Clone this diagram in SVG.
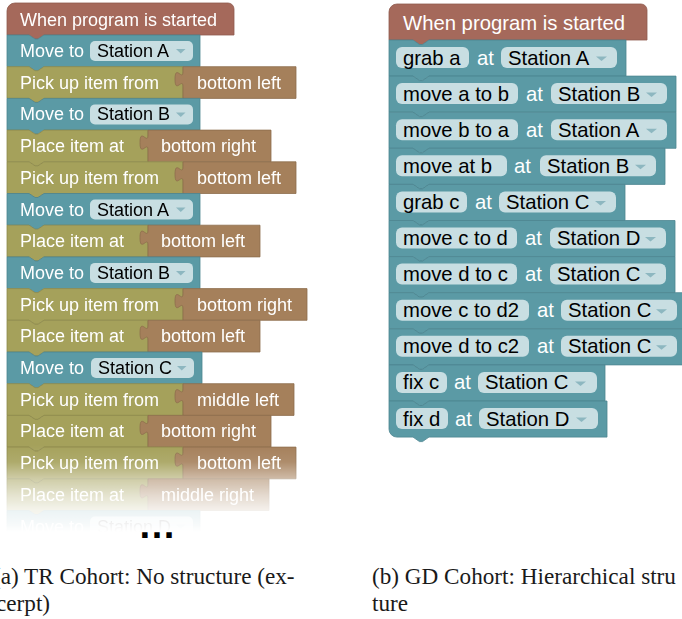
<svg xmlns="http://www.w3.org/2000/svg" xmlns:xlink="http://www.w3.org/1999/xlink" width="682" height="619" viewBox="0 0 682 619">
<style>
.hat{fill:#a5695b;stroke:#8f5a4e;stroke-width:0.8}
.mv{fill:#5b9aa5;stroke:#4c8590;stroke-width:0.8}
.act{fill:#a5a15b;stroke:#8e8a4d;stroke-width:0.8}
.val{fill:#a5805b;stroke:#8d6d4d;stroke-width:0.8}
.pill{fill:#c8dee2}
.arr{fill:#8db7c0}
.lt{font-family:"Liberation Sans",Arial,sans-serif;font-size:18px;fill:#fff}
.rt{font-family:"Liberation Sans",Arial,sans-serif;font-size:20.3px;fill:#fff}
.dk{fill:#000}
.cap{font-family:"Liberation Serif","Times New Roman",serif;font-size:23.2px;fill:#1a1a1a}
</style>
<defs>
<path id="lmove" d="M7,0 h22 l6,4 h3 l6,-4 H200 V31.7 H44 l-6,4 h-3 l-6,-4 H7 Z"/>
<path id="lpick" d="M7,0 h22 l6,4 h3 l6,-4 H183 V31.7 H44 l-6,4 h-3 l-6,-4 H7 Z"/>
<path id="lplace" d="M7,0 h22 l6,4 h3 l6,-4 H148 V31.7 H44 l-6,4 h-3 l-6,-4 H7 Z"/>
<g id="ldd"><rect class="pill" x="90" y="6" width="103" height="20" rx="5"/><polygon class="arr" points="176,14 185.5,14 180.75,18.5"/></g>
<linearGradient id="fadeg" gradientUnits="userSpaceOnUse" x1="0" y1="445" x2="0" y2="532">
<stop offset="0" stop-color="#fff" stop-opacity="1"/>
<stop offset="0.195" stop-color="#fff" stop-opacity="0.9"/>
<stop offset="0.379" stop-color="#fff" stop-opacity="0.55"/>
<stop offset="0.575" stop-color="#fff" stop-opacity="0.3"/>
<stop offset="0.747" stop-color="#fff" stop-opacity="0.12"/>
<stop offset="0.92" stop-color="#fff" stop-opacity="0.05"/>
<stop offset="1" stop-color="#fff" stop-opacity="0"/>
</linearGradient>
<mask id="fade" maskUnits="userSpaceOnUse" x="0" y="0" width="340" height="560"><rect x="0" y="0" width="340" height="560" fill="url(#fadeg)"/></mask>
</defs>

<g id="left" mask="url(#fade)">
<g id="l-hat"><path class="hat" d="M7,11 a8,8 0 0 1 8,-8 H228 a6,6 0 0 1 6,6 V35 H44 l-6,4 h-3 l-6,-4 H7 Z"/><text class="lt" x="20" y="26">When program is started</text></g>
<g id="l0" transform="translate(0,35)"><use href="#lmove" class="mv"/><text class="lt" x="20" y="22">Move to</text><use href="#ldd"/><text class="lt dk" x="97" y="22">Station A</text></g>
<g id="l1" transform="translate(0,66.7)"><use href="#lpick" class="act"/><text class="lt" x="20" y="22">Pick up item from</text><path class="val" d="M183,0 H296 V31.7 H183 V20 C183,10 175,28 175,12.5 C175,-3 183,15 183,5 Z"/><text class="lt" x="197" y="22">bottom left</text></g>
<g id="l2" transform="translate(0,98.4)"><use href="#lmove" class="mv"/><text class="lt" x="20" y="22">Move to</text><use href="#ldd"/><text class="lt dk" x="97" y="22">Station B</text></g>
<g id="l3" transform="translate(0,130.1)"><use href="#lplace" class="act"/><text class="lt" x="20" y="22">Place item at</text><path class="val" d="M148,0 H271 V31.7 H148 V20 C148,10 140,28 140,12.5 C140,-3 148,15 148,5 Z"/><text class="lt" x="161" y="22">bottom right</text></g>
<g id="l4" transform="translate(0,161.8)"><use href="#lpick" class="act"/><text class="lt" x="20" y="22">Pick up item from</text><path class="val" d="M183,0 H296 V31.7 H183 V20 C183,10 175,28 175,12.5 C175,-3 183,15 183,5 Z"/><text class="lt" x="197" y="22">bottom left</text></g>
<g id="l5" transform="translate(0,193.5)"><use href="#lmove" class="mv"/><text class="lt" x="20" y="22">Move to</text><use href="#ldd"/><text class="lt dk" x="97" y="22">Station A</text></g>
<g id="l6" transform="translate(0,225.2)"><use href="#lplace" class="act"/><text class="lt" x="20" y="22">Place item at</text><path class="val" d="M148,0 H260 V31.7 H148 V20 C148,10 140,28 140,12.5 C140,-3 148,15 148,5 Z"/><text class="lt" x="161" y="22">bottom left</text></g>
<g id="l7" transform="translate(0,256.9)"><use href="#lmove" class="mv"/><text class="lt" x="20" y="22">Move to</text><use href="#ldd"/><text class="lt dk" x="97" y="22">Station B</text></g>
<g id="l8" transform="translate(0,288.6)"><use href="#lpick" class="act"/><text class="lt" x="20" y="22">Pick up item from</text><path class="val" d="M183,0 H307 V31.7 H183 V20 C183,10 175,28 175,12.5 C175,-3 183,15 183,5 Z"/><text class="lt" x="197" y="22">bottom right</text></g>
<g id="l9" transform="translate(0,320.3)"><use href="#lplace" class="act"/><text class="lt" x="20" y="22">Place item at</text><path class="val" d="M148,0 H260 V31.7 H148 V20 C148,10 140,28 140,12.5 C140,-3 148,15 148,5 Z"/><text class="lt" x="161" y="22">bottom left</text></g>
<g id="l10" transform="translate(0,352)"><path class="mv" d="M7,0 h22 l6,4 h3 l6,-4 H202 V31.7 H44 l-6,4 h-3 l-6,-4 H7 Z"/><text class="lt" x="20" y="22">Move to</text><rect class="pill" x="91" y="6" width="103" height="20" rx="5"/><polygon class="arr" points="177,14 186.5,14 181.75,18.5"/><text class="lt dk" x="98" y="22">Station C</text></g>
<g id="l11" transform="translate(0,383.7)"><use href="#lpick" class="act"/><text class="lt" x="20" y="22">Pick up item from</text><path class="val" d="M183,0 H294 V31.7 H183 V20 C183,10 175,28 175,12.5 C175,-3 183,15 183,5 Z"/><text class="lt" x="197" y="22">middle left</text></g>
<g id="l12" transform="translate(0,415.4)"><use href="#lplace" class="act"/><text class="lt" x="20" y="22">Place item at</text><path class="val" d="M148,0 H271 V31.7 H148 V20 C148,10 140,28 140,12.5 C140,-3 148,15 148,5 Z"/><text class="lt" x="161" y="22">bottom right</text></g>
<g id="l13" transform="translate(0,447.1)"><use href="#lpick" class="act"/><text class="lt" x="20" y="22">Pick up item from</text><path class="val" d="M183,0 H296 V31.7 H183 V20 C183,10 175,28 175,12.5 C175,-3 183,15 183,5 Z"/><text class="lt" x="197" y="22">bottom left</text></g>
<g id="l14" transform="translate(0,478.8)"><use href="#lplace" class="act"/><text class="lt" x="20" y="22">Place item at</text><path class="val" d="M148,0 H269 V31.7 H148 V20 C148,10 140,28 140,12.5 C140,-3 148,15 148,5 Z"/><text class="lt" x="161" y="22">middle right</text></g>
<g id="l15" transform="translate(0,510.5)"><use href="#lmove" class="mv"/><text class="lt" x="20" y="22">Move to</text><use href="#ldd"/><text class="lt dk" x="97" y="22">Station D</text></g>
</g>
<text id="dots" x="157" y="538" text-anchor="middle" font-family="Liberation Sans, Arial, sans-serif" font-weight="bold" font-size="38" fill="#000">…</text>

<g id="right">
<g id="r-hat"><path class="hat" d="M389,12 a8,8 0 0 1 8,-8 H641 a6,6 0 0 1 6,6 V40 H429 l-6.5,4.5 h-3 l-6.5,-4.5 H389 Z"/><text class="rt" x="403" y="29.5">When program is started</text></g>
<g id="r0" transform="translate(0,40)"><path class="mv" d="M389,0 h24 l6.5,4.5 h3 l6.5,-4.5 H626 V36.1 H429 l-6.5,4.5 h-3 l-6.5,-4.5 H389 Z"/><rect class="pill" x="396" y="7" width="73" height="21" rx="6"/><text class="rt dk" x="403" y="24.5">grab a</text><text class="rt" x="477" y="24.5">at</text><rect class="pill" x="501" y="7" width="116" height="21" rx="6"/><text class="rt dk" x="508" y="24.5">Station A</text><polygon class="arr" points="596,16.5 607,16.5 601.5,21"/></g>
<g id="r1" transform="translate(0,76.1)"><path class="mv" d="M389,0 h24 l6.5,4.5 h3 l6.5,-4.5 H676 V36.1 H429 l-6.5,4.5 h-3 l-6.5,-4.5 H389 Z"/><rect class="pill" x="396" y="7" width="122" height="21" rx="6"/><text class="rt dk" x="403" y="24.5">move a to b</text><text class="rt" x="526" y="24.5">at</text><rect class="pill" x="551" y="7" width="116" height="21" rx="6"/><text class="rt dk" x="558" y="24.5">Station B</text><polygon class="arr" points="646,16.5 657,16.5 651.5,21"/></g>
<g id="r2" transform="translate(0,112.2)"><path class="mv" d="M389,0 h24 l6.5,4.5 h3 l6.5,-4.5 H676 V36.1 H429 l-6.5,4.5 h-3 l-6.5,-4.5 H389 Z"/><rect class="pill" x="396" y="7" width="122" height="21" rx="6"/><text class="rt dk" x="403" y="24.5">move b to a</text><text class="rt" x="526" y="24.5">at</text><rect class="pill" x="551" y="7" width="116" height="21" rx="6"/><text class="rt dk" x="558" y="24.5">Station A</text><polygon class="arr" points="646,16.5 657,16.5 651.5,21"/></g>
<g id="r3" transform="translate(0,148.3)"><path class="mv" d="M389,0 h24 l6.5,4.5 h3 l6.5,-4.5 H665 V36.1 H429 l-6.5,4.5 h-3 l-6.5,-4.5 H389 Z"/><rect class="pill" x="396" y="7" width="111" height="21" rx="6"/><text class="rt dk" x="403" y="24.5">move at b</text><text class="rt" x="514" y="24.5">at</text><rect class="pill" x="540" y="7" width="116" height="21" rx="6"/><text class="rt dk" x="547" y="24.5">Station B</text><polygon class="arr" points="635,16.5 646,16.5 640.5,21"/></g>
<g id="r4" transform="translate(0,184.4)"><path class="mv" d="M389,0 h24 l6.5,4.5 h3 l6.5,-4.5 H625 V36.1 H429 l-6.5,4.5 h-3 l-6.5,-4.5 H389 Z"/><rect class="pill" x="396" y="7" width="71" height="21" rx="6"/><text class="rt dk" x="403" y="24.5">grab c</text><text class="rt" x="475" y="24.5">at</text><rect class="pill" x="499" y="7" width="117" height="21" rx="6"/><text class="rt dk" x="506" y="24.5">Station C</text><polygon class="arr" points="595,16.5 606,16.5 600.5,21"/></g>
<g id="r5" transform="translate(0,220.5)"><path class="mv" d="M389,0 h24 l6.5,4.5 h3 l6.5,-4.5 H675 V36.1 H429 l-6.5,4.5 h-3 l-6.5,-4.5 H389 Z"/><rect class="pill" x="396" y="7" width="121" height="21" rx="6"/><text class="rt dk" x="403" y="24.5">move c to d</text><text class="rt" x="525" y="24.5">at</text><rect class="pill" x="550" y="7" width="116" height="21" rx="6"/><text class="rt dk" x="557" y="24.5">Station D</text><polygon class="arr" points="645,16.5 656,16.5 650.5,21"/></g>
<g id="r6" transform="translate(0,256.6)"><path class="mv" d="M389,0 h24 l6.5,4.5 h3 l6.5,-4.5 H675 V36.1 H429 l-6.5,4.5 h-3 l-6.5,-4.5 H389 Z"/><rect class="pill" x="396" y="7" width="121" height="21" rx="6"/><text class="rt dk" x="403" y="24.5">move d to c</text><text class="rt" x="525" y="24.5">at</text><rect class="pill" x="550" y="7" width="116" height="21" rx="6"/><text class="rt dk" x="557" y="24.5">Station C</text><polygon class="arr" points="645,16.5 656,16.5 650.5,21"/></g>
<g id="r7" transform="translate(0,292.7)"><path class="mv" d="M389,0 h24 l6.5,4.5 h3 l6.5,-4.5 H690 V36.1 H429 l-6.5,4.5 h-3 l-6.5,-4.5 H389 Z"/><rect class="pill" x="396" y="7" width="133" height="21" rx="6"/><text class="rt dk" x="403" y="24.5">move c to d2</text><text class="rt" x="537" y="24.5">at</text><rect class="pill" x="561" y="7" width="116" height="21" rx="6"/><text class="rt dk" x="568" y="24.5">Station C</text><polygon class="arr" points="656,16.5 667,16.5 661.5,21"/></g>
<g id="r8" transform="translate(0,328.8)"><path class="mv" d="M389,0 h24 l6.5,4.5 h3 l6.5,-4.5 H690 V36.1 H429 l-6.5,4.5 h-3 l-6.5,-4.5 H389 Z"/><rect class="pill" x="396" y="7" width="133" height="21" rx="6"/><text class="rt dk" x="403" y="24.5">move d to c2</text><text class="rt" x="537" y="24.5">at</text><rect class="pill" x="561" y="7" width="116" height="21" rx="6"/><text class="rt dk" x="568" y="24.5">Station C</text><polygon class="arr" points="656,16.5 667,16.5 661.5,21"/></g>
<g id="r9" transform="translate(0,364.9)"><path class="mv" d="M389,0 h24 l6.5,4.5 h3 l6.5,-4.5 H605 V36.1 H429 l-6.5,4.5 h-3 l-6.5,-4.5 H389 Z"/><rect class="pill" x="396" y="7" width="51" height="21" rx="6"/><text class="rt dk" x="403" y="24.5">fix c</text><text class="rt" x="454" y="24.5">at</text><rect class="pill" x="478" y="7" width="119" height="21" rx="6"/><text class="rt dk" x="485" y="24.5">Station C</text><polygon class="arr" points="575,16.5 586,16.5 580.5,21"/></g>
<g id="r10" transform="translate(0,401)"><path class="mv" d="M389,0 h24 l6.5,4.5 h3 l6.5,-4.5 H607 V36.1 H429 l-6.5,4.5 h-3 l-6.5,-4.5 H397 a8,8 0 0 1 -8,-8 Z"/><rect class="pill" x="396" y="7" width="52" height="21" rx="6"/><text class="rt dk" x="403" y="24.5">fix d</text><text class="rt" x="455" y="24.5">at</text><rect class="pill" x="479" y="7" width="119" height="21" rx="6"/><text class="rt dk" x="486" y="24.5">Station D</text><polygon class="arr" points="576,16.5 587,16.5 581.5,21"/></g>
</g>

<g id="captions">
<text class="cap" x="-7" y="584">(a) TR Cohort: No structure (ex-</text>
<text class="cap" x="-4" y="611">cerpt)</text>
<text class="cap" x="372" y="584">(b) GD Cohort: Hierarchical stru</text>
<text class="cap" x="372" y="611">ture</text>
</g>
</svg>
